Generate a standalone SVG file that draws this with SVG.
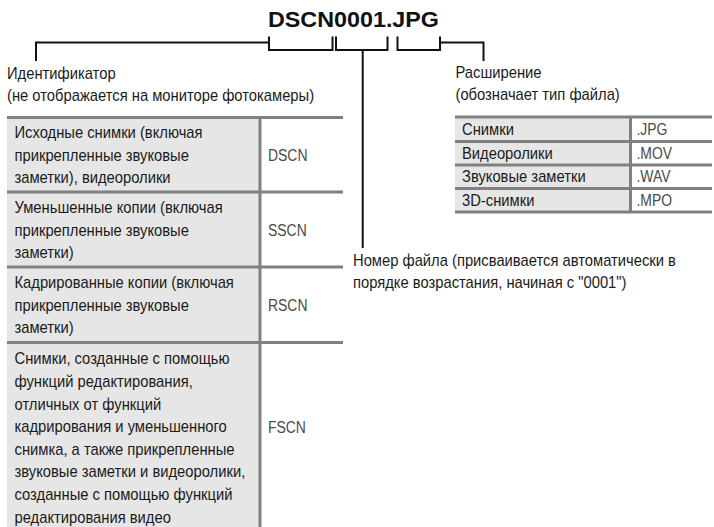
<svg xmlns="http://www.w3.org/2000/svg" width="714" height="527" viewBox="0 0 714 527">
<style>
.t{font-family:"Liberation Sans",Arial,sans-serif;font-size:16.4px;fill:#1a1a1a}
.c{font-family:"Liberation Sans",Arial,sans-serif;font-size:16.4px;fill:#4a4a4a}
.ttl{font-family:"Liberation Sans",Arial,sans-serif;font-size:22px;font-weight:bold;fill:#111}
.br{fill:none;stroke:#111;stroke-width:2}
.grid{stroke:#808080;stroke-width:3;fill:none}
.cell{fill:#e6e6e6}
</style>
<rect width="714" height="527" fill="#fff"/>
<g id="title"><text class="ttl" x="268" y="27" textLength="171" lengthAdjust="spacingAndGlyphs">DSCN0001.JPG</text></g>
<g id="connectors">
<path class="br" d="M36 61 V42.5 H269"/>
<path class="br" d="M269 36.5 V50 H332.5 V36.5"/>
<path class="br" d="M336 36.5 V50 H387.5 V36.5"/>
<path class="br" d="M362.7 50 V248"/>
<path class="br" d="M397.5 36.5 V50 H440 V36.5"/>
<path class="br" d="M440 42.5 H483.5 V61"/>
</g>
<g id="identifier-label" transform="translate(7 0) scale(0.9 1)">
<text class="t" x="0" y="79">Идентификатор</text>
<text class="t" x="0" y="101">(не отображается на мониторе фотокамеры)</text>
</g>
<g id="extension-label" transform="translate(455.5 0) scale(0.9 1)">
<text class="t" x="0" y="78">Расширение</text>
<text class="t" x="0" y="100">(обозначает тип файла)</text>
</g>
<g id="number-label" transform="translate(353 0) scale(0.9 1)">
<text class="t" x="0" y="266">Номер файла (присваивается автоматически в</text>
<text class="t" x="0" y="288">порядке возрастания, начиная с "0001")</text>
</g>
<g id="identifier-table">
<rect class="cell" x="7" y="117" width="253" height="410"/>
<path class="grid" d="M7 117.5 H343 M7 192 H343 M7 267 H343 M7 342.5 H343 M260 117 V527"/>
<g transform="translate(14.5 0) scale(0.9 1)">
<text class="t" x="0" y="138.5">Исходные снимки (включая</text>
<text class="t" x="0" y="161">прикрепленные звуковые</text>
<text class="t" x="0" y="183.5">заметки), видеоролики</text>
<text class="t" x="0" y="213.5">Уменьшенные копии (включая</text>
<text class="t" x="0" y="236">прикрепленные звуковые</text>
<text class="t" x="0" y="258.5">заметки)</text>
<text class="t" x="0" y="288.5">Кадрированные копии (включая</text>
<text class="t" x="0" y="311">прикрепленные звуковые</text>
<text class="t" x="0" y="333.5">заметки)</text>
<text class="t" x="0" y="364.5">Снимки, созданные с помощью</text>
<text class="t" x="0" y="387.1">функций редактирования,</text>
<text class="t" x="0" y="409.7">отличных от функций</text>
<text class="t" x="0" y="432.3">кадрирования и уменьшенного</text>
<text class="t" x="0" y="454.9">снимка, а также прикрепленные</text>
<text class="t" x="0" y="477.5">звуковые заметки и видеоролики,</text>
<text class="t" x="0" y="500.1">созданные с помощью функций</text>
<text class="t" x="0" y="522.7">редактирования видео</text>
</g>
<g transform="translate(268 0) scale(0.85 1)">
<text class="c" x="0" y="161">DSCN</text>
<text class="c" x="0" y="236">SSCN</text>
<text class="c" x="0" y="311">RSCN</text>
<text class="c" x="0" y="433">FSCN</text>
</g>
</g>
<g id="extension-table">
<rect class="cell" x="455" y="117" width="175" height="95"/>
<path class="grid" d="M455 117 H712 M455 141.5 H712 M455 165 H712 M455 188.5 H712 M455 212 H712 M630.5 117 V212"/>
<g transform="translate(462 0) scale(0.9 1)">
<text class="t" x="0" y="135.5">Снимки</text>
<text class="t" x="0" y="159">Видеоролики</text>
<text class="t" x="0" y="182.5">Звуковые заметки</text>
<text class="t" x="0" y="206">3D-снимки</text>
</g>
<g transform="translate(636.5 0) scale(0.85 1)">
<text class="c" x="0" y="135.5">.JPG</text>
<text class="c" x="0" y="159">.MOV</text>
<text class="c" x="0" y="182.5">.WAV</text>
<text class="c" x="0" y="206">.MPO</text>
</g>
</g>
</svg>
